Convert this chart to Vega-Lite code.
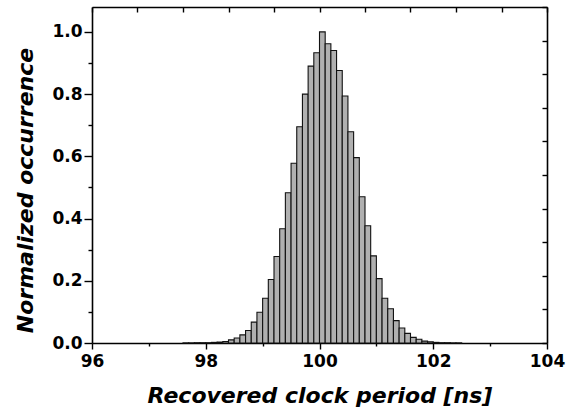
{
  "$schema": "https://vega.github.io/schema/vega-lite/v6.json",
  "width": 455,
  "height": 336,
  "autosize": "none",
  "padding": {"left": 92, "top": 7, "right": 19, "bottom": 69},
  "background": "white",
  "config": {
    "view": {"stroke": null},
    "axis": {
      "domainColor": "#000000",
      "domainWidth": 1.6,
      "tickColor": "#000000",
      "tickWidth": 1.4,
      "labelFont": "DejaVu Sans",
      "labelFontWeight": "bold",
      "labelFontSize": 17,
      "labelColor": "#000000",
      "titleFont": "DejaVu Sans",
      "titleFontWeight": "bold",
      "titleFontStyle": "italic",
      "titleFontSize": 22,
      "titleColor": "#000000",
      "grid": false
    }
  },
  "data": {
    "values": [
      {"start": 97.6, "end": 97.7, "value": 0.0005},
      {"start": 97.7, "end": 97.8, "value": 0.0005},
      {"start": 97.8, "end": 97.9, "value": 0.001},
      {"start": 97.9, "end": 98.0, "value": 0.001},
      {"start": 98.0, "end": 98.1, "value": 0.001},
      {"start": 98.1, "end": 98.2, "value": 0.002},
      {"start": 98.2, "end": 98.3, "value": 0.003},
      {"start": 98.3, "end": 98.4, "value": 0.005},
      {"start": 98.4, "end": 98.5, "value": 0.010},
      {"start": 98.5, "end": 98.6, "value": 0.016},
      {"start": 98.6, "end": 98.7, "value": 0.026},
      {"start": 98.7, "end": 98.8, "value": 0.040},
      {"start": 98.8, "end": 98.9, "value": 0.067},
      {"start": 98.9, "end": 99.0, "value": 0.099},
      {"start": 99.0, "end": 99.1, "value": 0.144},
      {"start": 99.1, "end": 99.2, "value": 0.204},
      {"start": 99.2, "end": 99.3, "value": 0.278},
      {"start": 99.3, "end": 99.4, "value": 0.367},
      {"start": 99.4, "end": 99.5, "value": 0.483},
      {"start": 99.5, "end": 99.6, "value": 0.578},
      {"start": 99.6, "end": 99.7, "value": 0.695},
      {"start": 99.7, "end": 99.8, "value": 0.800},
      {"start": 99.8, "end": 99.9, "value": 0.890},
      {"start": 99.9, "end": 100.0, "value": 0.933},
      {"start": 100.0, "end": 100.1, "value": 1.000},
      {"start": 100.1, "end": 100.2, "value": 0.962},
      {"start": 100.2, "end": 100.3, "value": 0.940},
      {"start": 100.3, "end": 100.4, "value": 0.876},
      {"start": 100.4, "end": 100.5, "value": 0.794},
      {"start": 100.5, "end": 100.6, "value": 0.679},
      {"start": 100.6, "end": 100.7, "value": 0.596},
      {"start": 100.7, "end": 100.8, "value": 0.470},
      {"start": 100.8, "end": 100.9, "value": 0.377},
      {"start": 100.9, "end": 101.0, "value": 0.280},
      {"start": 101.0, "end": 101.1, "value": 0.207},
      {"start": 101.1, "end": 101.2, "value": 0.144},
      {"start": 101.2, "end": 101.3, "value": 0.110},
      {"start": 101.3, "end": 101.4, "value": 0.072},
      {"start": 101.4, "end": 101.5, "value": 0.048},
      {"start": 101.5, "end": 101.6, "value": 0.031},
      {"start": 101.6, "end": 101.7, "value": 0.018},
      {"start": 101.7, "end": 101.8, "value": 0.012},
      {"start": 101.8, "end": 101.9, "value": 0.006},
      {"start": 101.9, "end": 102.0, "value": 0.004},
      {"start": 102.0, "end": 102.1, "value": 0.002},
      {"start": 102.1, "end": 102.2, "value": 0.001},
      {"start": 102.2, "end": 102.3, "value": 0.001},
      {"start": 102.3, "end": 102.4, "value": 0.0005},
      {"start": 102.4, "end": 102.5, "value": 0.0005}
    ]
  },
  "layer": [
    {
      "mark": {"type": "bar", "fill": "#b0b0b0", "stroke": "#111111", "strokeWidth": 1.1},
      "encoding": {
        "x": {
          "field": "start", "type": "quantitative",
          "scale": {"domain": [96, 104], "nice": false, "zero": false},
          "axis": {
            "orient": "bottom",
            "values": [96, 97, 98, 99, 100, 101, 102, 103, 104],
            "labelExpr": "datum.value % 2 === 0 ? datum.label : ''",
            "tickSize": {"condition": {"test": "datum.value % 2 === 0", "value": 6}, "value": 3},
            "labelPadding": 4,
            "labelFlush": false,
            "title": "Recovered clock period [ns]",
            "titlePadding": 16
          }
        },
        "x2": {"field": "end"},
        "y": {
          "field": "value", "type": "quantitative",
          "scale": {"domain": [0, 1.08], "nice": false},
          "axis": {
            "orient": "left",
            "values": [0, 0.1, 0.2, 0.3, 0.4, 0.5, 0.6, 0.7, 0.8, 0.9, 1.0],
            "format": ".1f",
            "labelExpr": "round(datum.value * 10) % 2 === 0 ? datum.label : ''",
            "tickSize": {"condition": {"test": "round(datum.value * 10) % 2 === 0", "value": 8}, "value": 4},
            "labelPadding": 2,
            "labelFlush": false,
            "title": "Normalized occurrence",
            "titlePadding": 14,
            "titleY": 183
          }
        },
        "y2": {"datum": 0}
      }
    },
    {
      "mark": {"type": "bar", "opacity": 0},
      "encoding": {
        "x": {
          "field": "start", "type": "quantitative",
          "axis": {
            "orient": "top",
            "values": [96, 96.8, 97.6, 98.4, 99.2, 100, 100.8, 101.6, 102.4, 103.2, 104],
            "labels": false,
            "title": null,
            "tickSize": -5
          }
        },
        "x2": {"field": "end"},
        "y": {
          "field": "value", "type": "quantitative",
          "axis": {
            "orient": "right",
            "values": [0, 0.108, 0.216, 0.324, 0.432, 0.54, 0.648, 0.756, 0.864, 0.972, 1.08],
            "labels": false,
            "title": null,
            "tickSize": -5
          }
        },
        "y2": {"datum": 0}
      }
    }
  ]
}
